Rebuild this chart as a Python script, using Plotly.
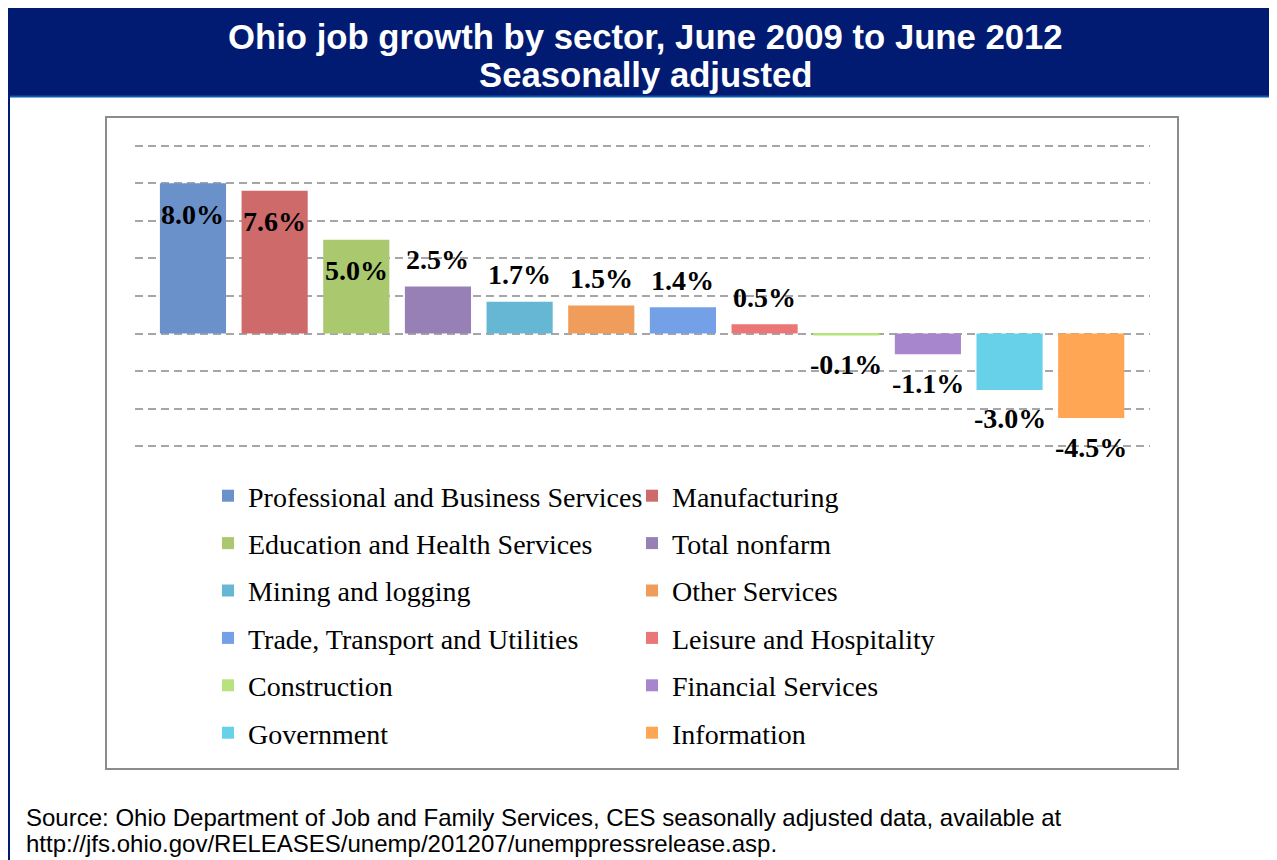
import plotly.graph_objects as go

# ---- data ----
sectors = [
    "Professional and Business Services", "Manufacturing",
    "Education and Health Services", "Total nonfarm",
    "Mining and logging", "Other Services",
    "Trade, Transport and Utilities", "Leisure and Hospitality",
    "Construction", "Financial Services",
    "Government", "Information",
]
growth = [8.0, 7.6, 5.0, 2.5, 1.7, 1.5, 1.4, 0.5, -0.1, -1.1, -3.0, -4.5]
colors = [
    "#6B91CB", "#CF6A6A", "#AAC96F", "#9780B5", "#66B7D3", "#F09C5A",
    "#73A0E7", "#EB7676", "#B6E37C", "#A786CD", "#68D1EA", "#FFA655",
]
title_lines = ["Ohio job growth by sector, June 2009 to June 2012", "Seasonally adjusted"]
source_lines = [
    "Source: Ohio Department of Job and Family Services, CES seasonally adjusted data, available at",
    "http://jfs.ohio.gov/RELEASES/unemp/201207/unemppressrelease.asp.",
]

# page has an 8px body margin; figure fills the rest of the 1277x860 window
OFF = 8
W, H = 1277 - OFF, 860 - OFF
ML, MR, MT, MB = 127, 127, 134, 410
PW = W - ML - MR
PH = H - MT - MB


def X(px):  # page pixel -> paper x
    return (px - OFF - ML) / PW


def Y(py):  # page pixel -> paper y
    return (H - MB - (py - OFF)) / PH


fig = go.Figure()
for i, (name, val, col) in enumerate(zip(sectors, growth, colors)):
    fig.add_trace(go.Bar(
        x=[name], y=[val], name=name, width=0.81,
        marker=dict(color=col, line=dict(width=0)),
        legend="legend" if i % 2 == 0 else "legend2",
        legendgroup=name,
        hoverinfo="skip",
    ))
    if val > 4:
        shift = -31
    elif val >= 0:
        shift = 27
    else:
        shift = -29
    fig.add_annotation(
        x=name, y=val, xref="x", yref="y", yshift=shift,
        text=f"{val:.1f}%", showarrow=False, yanchor="middle",
        font=dict(family="Liberation Serif", size=28, color="black", weight=700),
    )

# Title band and frame
shapes = [
    dict(type="rect", xref="paper", yref="paper", x0=X(8), x1=X(1280), y0=Y(97), y1=Y(7),
         fillcolor="#001B71", line=dict(width=0), layer="below"),
    dict(type="line", xref="paper", yref="paper", x0=X(8), x1=X(1280), y0=Y(96.5), y1=Y(96.5),
         line=dict(color="#0B5CA8", width=2)),
    dict(type="line", xref="paper", yref="paper", x0=X(9), x1=X(9), y0=Y(7), y1=Y(862),
         line=dict(color="#001B71", width=2)),
    dict(type="rect", xref="paper", yref="paper", x0=X(106), x1=X(1178), y0=Y(769), y1=Y(117),
         line=dict(color="#8C8C8C", width=2), fillcolor="rgba(0,0,0,0)", layer="below"),
]

for line, yc in zip(title_lines, [37, 75]):
    fig.add_annotation(
        xref="paper", yref="paper", x=X(645.5), y=Y(yc), text=line, showarrow=False,
        xanchor="center", yanchor="middle",
        font=dict(family="Liberation Sans", size=34.7, color="white", weight=700),
    )
for line, yc in zip(source_lines, [817, 843]):
    fig.add_annotation(
        xref="paper", yref="paper", x=X(24), y=Y(yc), text=line, showarrow=False,
        xanchor="left", yanchor="middle", align="left",
        font=dict(family="Liberation Sans", size=24, color="black"),
    )

legend_common = dict(
    orientation="v", traceorder="grouped", tracegroupgap=8,
    font=dict(family="Liberation Serif", size=28, color="black"),
    bgcolor="rgba(0,0,0,0)", borderwidth=0,
    xanchor="left", yanchor="top", itemclick=False, itemdoubleclick=False,
)

fig.update_layout(
    width=W, height=H,
    margin=dict(l=ML, r=MR, t=MT, b=MB),
    paper_bgcolor="white", plot_bgcolor="white",
    barmode="overlay",
    showlegend=True,
    shapes=shapes,
    legend=dict(x=X(208), y=Y(471), **legend_common),
    legend2=dict(x=X(632), y=Y(471), **legend_common),
    xaxis=dict(type="category", categoryorder="array", categoryarray=sectors,
               range=[-0.71, 11.72], showticklabels=False, showgrid=False,
               zeroline=False, showline=False, ticks=""),
    yaxis=dict(range=[-6.2, 10.2], dtick=2, tick0=0, showticklabels=False,
               showgrid=True, gridcolor="#A6A6A6", gridwidth=2, griddash="8px,5px",
               zeroline=False, showline=False, ticks=""),
)

fig.write_html("out.html")
